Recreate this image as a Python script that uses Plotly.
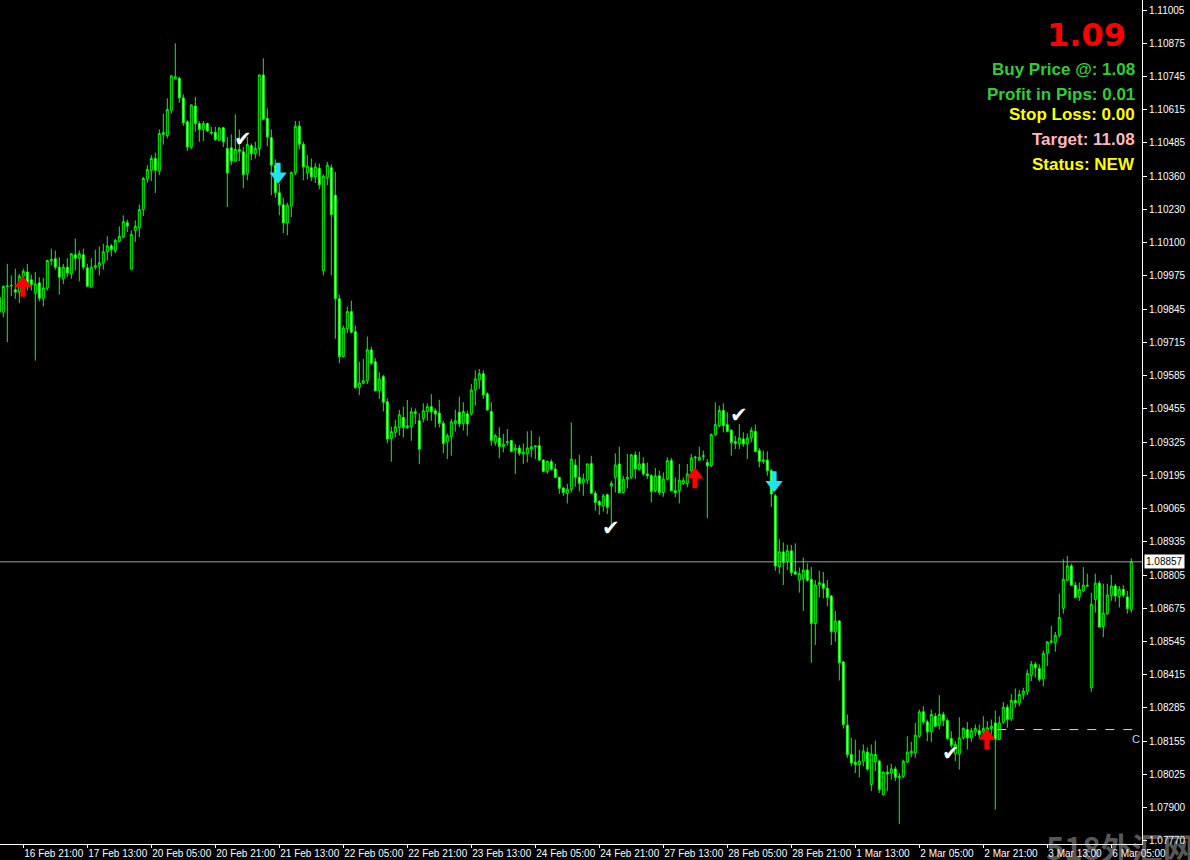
import plotly.graph_objects as go

# ---------------- data (EURUSD H1) ----------------
open_ = [1.09887,1.09829,1.09929,1.09931,1.09916,1.09907,1.09968,1.09985,1.09955,1.09903,
1.09943,1.09883,1.09922,1.10030,1.10037,1.10004,1.09959,1.10004,1.09978,1.10052,
1.10039,1.10052,1.10001,1.09926,1.10004,1.10008,1.10021,1.10064,1.10087,1.10069,
1.10105,1.10121,1.10177,1.09996,1.10147,1.10157,1.10228,1.10347,1.10381,1.10427,
1.10378,1.10520,1.10516,1.10615,1.10737,1.10739,1.10663,1.10570,1.10472,1.10631,
1.10563,1.10540,1.10563,1.10529,1.10529,1.10498,1.10547,1.10466,1.10469,1.10417,
1.10462,1.10453,1.10368,1.10477,1.10446,1.10466,1.10752,1.10583,1.10508,1.10401,
1.10294,1.10247,1.10176,1.10242,1.10371,1.10553,1.10482,1.10371,1.10391,1.10355,
1.10389,1.09991,1.10352,1.10391,1.10284,1.09881,1.09656,1.09764,1.09831,1.09753,
1.09536,1.09552,1.09562,1.09682,1.09636,1.09523,1.09578,1.09480,1.09337,1.09361,
1.09380,1.09419,1.09380,1.09384,1.09441,1.09406,1.09415,1.09442,1.09461,1.09445,
1.09436,1.09396,1.09324,1.09345,1.09396,1.09439,1.09396,1.09433,1.09433,1.09526,
1.09565,1.09589,1.09511,1.09442,1.09322,1.09339,1.09306,1.09322,1.09329,1.09292,
1.09300,1.09277,1.09277,1.09296,1.09305,1.09309,1.09253,1.09209,1.09247,1.09218,
1.09186,1.09144,1.09123,1.09140,1.09234,1.09186,1.09166,1.09175,1.09240,1.09124,
1.09092,1.09075,1.09118,1.09152,1.09186,1.09238,1.09127,1.09179,1.09186,1.09273,
1.09218,1.09240,1.09199,1.09192,1.09134,1.09192,1.09127,1.09179,1.09251,1.09134,
1.09134,1.09162,1.09162,1.09212,1.09261,1.09253,1.09267,1.09244,1.09231,1.09352,
1.09387,1.09446,1.09391,1.09368,1.09325,1.09316,1.09335,1.09316,1.09339,1.09365,
1.09290,1.09248,1.09253,1.09212,1.09114,1.08838,1.08896,1.08857,1.08900,1.08818,
1.08786,1.08792,1.08825,1.08789,1.08617,1.08766,1.08772,1.08754,1.08724,1.08585,
1.08627,1.08467,1.08221,1.08107,1.08077,1.08068,1.08081,1.08116,1.07990,1.08078,
1.08081,1.07951,1.08038,1.08035,1.08051,1.08016,1.08022,1.08078,1.08113,1.08113,
1.08178,1.08273,1.08234,1.08195,1.08256,1.08221,1.08263,1.08239,1.08169,1.08110,
1.08109,1.08172,1.08204,1.08172,1.08195,1.08200,1.08195,1.08195,1.08208,1.08230,
1.08165,1.08233,1.08291,1.08246,1.08317,1.08308,1.08341,1.08351,1.08415,1.08458,
1.08442,1.08402,1.08501,1.08544,1.08542,1.08571,1.08676,1.08785,1.08841,1.08766,
1.08722,1.08744,1.08766,1.08367,1.08711,1.08774,1.08605,1.08655,1.08727,1.08763,
1.08722,1.08750,1.08720,1.08672]

high = [1.09900,1.09933,1.10017,1.09972,1.09998,1.09978,1.09998,1.10017,1.09975,1.09985,
1.09965,1.09962,1.10033,1.10076,1.10069,1.10043,1.10017,1.10039,1.10059,1.10115,
1.10069,1.10076,1.10017,1.10039,1.10072,1.10085,1.10095,1.10124,1.10095,1.10115,
1.10163,1.10206,1.10189,1.10147,1.10186,1.10248,1.10355,1.10401,1.10440,1.10450,
1.10540,1.10602,1.10661,1.10752,1.10875,1.10745,1.10677,1.10576,1.10638,1.10667,
1.10572,1.10573,1.10567,1.10550,1.10550,1.10550,1.10550,1.10511,1.10521,1.10599,
1.10540,1.10472,1.10511,1.10485,1.10492,1.10754,1.10817,1.10622,1.10540,1.10424,
1.10329,1.10274,1.10255,1.10377,1.10573,1.10573,1.10492,1.10440,1.10427,1.10410,
1.10407,1.10365,1.10414,1.10404,1.10375,1.09897,1.09777,1.09851,1.09874,1.09777,
1.09636,1.09647,1.09734,1.09695,1.09650,1.09595,1.09585,1.09494,1.09383,1.09410,
1.09448,1.09461,1.09487,1.09458,1.09454,1.09435,1.09474,1.09474,1.09510,1.09454,
1.09488,1.09406,1.09357,1.09413,1.09449,1.09500,1.09478,1.09446,1.09550,1.09602,
1.09608,1.09602,1.09517,1.09478,1.09355,1.09381,1.09355,1.09374,1.09332,1.09316,
1.09312,1.09318,1.09365,1.09368,1.09309,1.09344,1.09257,1.09251,1.09256,1.09238,
1.09188,1.09149,1.09160,1.09400,1.09257,1.09274,1.09201,1.09240,1.09270,1.09134,
1.09097,1.09121,1.09123,1.09173,1.09279,1.09305,1.09192,1.09277,1.09277,1.09287,
1.09286,1.09264,1.09244,1.09199,1.09222,1.09212,1.09205,1.09264,1.09261,1.09186,
1.09238,1.09186,1.09238,1.09277,1.09270,1.09305,1.09290,1.09257,1.09357,1.09478,
1.09465,1.09474,1.09439,1.09374,1.09348,1.09394,1.09361,1.09357,1.09381,1.09391,
1.09300,1.09290,1.09287,1.09218,1.09121,1.08945,1.08932,1.08923,1.08923,1.08929,
1.08835,1.08874,1.08851,1.08837,1.08786,1.08822,1.08818,1.08786,1.08728,1.08666,
1.08629,1.08471,1.08263,1.08172,1.08165,1.08126,1.08146,1.08135,1.08146,1.08161,
1.08087,1.08042,1.08065,1.08070,1.08061,1.08035,1.08087,1.08178,1.08156,1.08230,
1.08282,1.08295,1.08243,1.08282,1.08269,1.08338,1.08273,1.08247,1.08198,1.08159,
1.08252,1.08213,1.08233,1.08211,1.08224,1.08224,1.08256,1.08237,1.08243,1.08278,
1.08256,1.08311,1.08302,1.08343,1.08364,1.08358,1.08367,1.08438,1.08471,1.08468,
1.08458,1.08512,1.08549,1.08607,1.08584,1.08733,1.08867,1.08880,1.08850,1.08779,
1.08776,1.08837,1.08811,1.08737,1.08811,1.08783,1.08772,1.08772,1.08806,1.08772,
1.08763,1.08766,1.08744,1.08871]

low = [1.09822,1.09809,1.09712,1.09891,1.09881,1.09864,1.09939,1.09913,1.09913,1.09640,
1.09871,1.09851,1.09913,1.10011,1.09994,1.09897,1.09939,1.09965,1.09959,1.09991,
1.09949,1.09994,1.09926,1.09926,1.09994,1.09972,1.09994,1.10030,1.10046,1.10059,
1.10100,1.10118,1.10141,1.09996,1.10102,1.10121,1.10203,1.10333,1.10339,1.10293,
1.10362,1.10481,1.10505,1.10602,1.10735,1.10644,1.10554,1.10456,1.10463,1.10531,
1.10492,1.10495,1.10531,1.10518,1.10495,1.10495,1.10472,1.10238,1.10401,1.10414,
1.10417,1.10312,1.10342,1.10420,1.10427,1.10436,1.10576,1.10475,1.10284,1.10274,
1.10206,1.10137,1.10128,1.10199,1.10362,1.10462,1.10342,1.10345,1.10339,1.10332,
1.10307,1.09972,1.10323,1.09972,1.09725,1.09630,1.09653,1.09747,1.09747,1.09530,
1.09506,1.09549,1.09549,1.09624,1.09520,1.09491,1.09442,1.09318,1.09247,1.09341,
1.09348,1.09341,1.09374,1.09328,1.09393,1.09237,1.09400,1.09406,1.09406,1.09380,
1.09380,1.09279,1.09257,1.09270,1.09364,1.09381,1.09368,1.09348,1.09426,1.09465,
1.09530,1.09491,1.09446,1.09309,1.09309,1.09260,1.09283,1.09309,1.09283,1.09199,
1.09270,1.09238,1.09244,1.09264,1.09257,1.09251,1.09205,1.09199,1.09212,1.09183,
1.09121,1.09114,1.09084,1.09127,1.09149,1.09131,1.09114,1.09160,1.09121,1.09056,
1.09040,1.09053,1.09043,1.08991,1.09127,1.09123,1.09123,1.09143,1.09179,1.09179,
1.09212,1.09192,1.09179,1.09088,1.09127,1.09117,1.09110,1.09173,1.09131,1.09108,
1.09084,1.09157,1.09147,1.09199,1.09212,1.09251,1.09251,1.09027,1.09225,1.09348,
1.09381,1.09361,1.09361,1.09270,1.09296,1.09296,1.09305,1.09257,1.09322,1.09283,
1.09225,1.09238,1.09192,1.09071,1.08822,1.08811,1.08767,1.08825,1.08802,1.08806,
1.08737,1.08666,1.08780,1.08464,1.08533,1.08718,1.08715,1.08685,1.08533,1.08546,
1.08395,1.08208,1.08094,1.08061,1.08035,1.08018,1.08061,1.08044,1.07964,1.08042,
1.07957,1.07948,1.07964,1.08009,1.08003,1.07836,1.08016,1.08074,1.08096,1.08094,
1.08172,1.08224,1.08159,1.08156,1.08213,1.08204,1.08217,1.08165,1.08133,1.08081,
1.08048,1.08165,1.08126,1.08156,1.08178,1.08172,1.08178,1.08178,1.08185,1.07892,
1.08163,1.08226,1.08211,1.08237,1.08289,1.08295,1.08321,1.08338,1.08393,1.08406,
1.08390,1.08373,1.08451,1.08538,1.08507,1.08562,1.08655,1.08783,1.08763,1.08715,
1.08705,1.08741,1.08761,1.08351,1.08659,1.08601,1.08564,1.08650,1.08705,1.08702,
1.08679,1.08718,1.08655,1.08659]

close = [1.09829,1.09929,1.09931,1.09933,1.09907,1.09969,1.09988,1.09939,1.09936,1.09939,
1.09883,1.09923,1.10030,1.10034,1.10004,1.09965,1.10004,1.09981,1.10056,1.10039,
1.10056,1.10004,1.09930,1.10004,1.10010,1.10021,1.10064,1.10087,1.10072,1.10108,
1.10124,1.10181,1.10164,1.10131,1.10163,1.10228,1.10349,1.10384,1.10427,1.10381,
1.10524,1.10528,1.10618,1.10748,1.10745,1.10663,1.10566,1.10472,1.10635,1.10563,
1.10540,1.10563,1.10534,1.10527,1.10501,1.10545,1.10492,1.10371,1.10417,1.10462,
1.10455,1.10364,1.10481,1.10446,1.10466,1.10752,1.10580,1.10511,1.10401,1.10294,
1.10247,1.10176,1.10245,1.10372,1.10553,1.10482,1.10394,1.10397,1.10355,1.10394,
1.10325,1.10358,1.10401,1.10208,1.09881,1.09656,1.09767,1.09831,1.09751,1.09536,
1.09553,1.09562,1.09682,1.09630,1.09523,1.09569,1.09478,1.09335,1.09364,1.09383,
1.09429,1.09380,1.09387,1.09441,1.09435,1.09296,1.09445,1.09461,1.09441,1.09432,
1.09396,1.09318,1.09348,1.09402,1.09406,1.09394,1.09442,1.09394,1.09526,1.09569,
1.09589,1.09507,1.09448,1.09329,1.09348,1.09306,1.09316,1.09325,1.09287,1.09300,
1.09279,1.09283,1.09300,1.09305,1.09308,1.09253,1.09209,1.09248,1.09218,1.09186,
1.09143,1.09127,1.09140,1.09257,1.09186,1.09162,1.09179,1.09238,1.09124,1.09088,
1.09078,1.09114,1.09069,1.09162,1.09234,1.09127,1.09179,1.09186,1.09273,1.09218,
1.09238,1.09199,1.09192,1.09131,1.09192,1.09127,1.09179,1.09251,1.09134,1.09127,
1.09175,1.09173,1.09199,1.09261,1.09264,1.09264,1.09270,1.09231,1.09352,1.09391,
1.09446,1.09387,1.09365,1.09322,1.09318,1.09339,1.09316,1.09339,1.09368,1.09287,
1.09248,1.09254,1.09212,1.09121,1.08841,1.08896,1.08854,1.08900,1.08815,1.08809,
1.08811,1.08825,1.08785,1.08617,1.08767,1.08776,1.08754,1.08718,1.08585,1.08627,
1.08464,1.08224,1.08107,1.08074,1.08068,1.08081,1.08120,1.08051,1.08109,1.08107,
1.07970,1.08038,1.08031,1.08051,1.08018,1.08022,1.08081,1.08116,1.08120,1.08182,
1.08273,1.08234,1.08195,1.08263,1.08217,1.08263,1.08239,1.08169,1.08143,1.08146,
1.08172,1.08208,1.08172,1.08200,1.08208,1.08185,1.08208,1.08211,1.08217,1.08165,
1.08230,1.08291,1.08243,1.08317,1.08308,1.08341,1.08354,1.08423,1.08458,1.08445,
1.08399,1.08501,1.08545,1.08549,1.08571,1.08640,1.08789,1.08841,1.08766,1.08718,
1.08750,1.08766,1.08763,1.08692,1.08774,1.08603,1.08657,1.08728,1.08763,1.08724,
1.08750,1.08727,1.08675,1.08857]

bars = list(range(len(close)))

time_labels = ["16 Feb 21:00", "17 Feb 13:00", "20 Feb 05:00", "20 Feb 21:00", "21 Feb 13:00",
               "22 Feb 05:00", "22 Feb 21:00", "23 Feb 13:00", "24 Feb 05:00", "24 Feb 21:00",
               "27 Feb 13:00", "28 Feb 05:00", "28 Feb 21:00", "1 Mar 13:00", "2 Mar 05:00",
               "2 Mar 21:00", "3 Mar 13:00", "6 Mar 05:00"]
label_bars = [6 + 16 * k for k in range(len(time_labels))]

price_labels = ["1.11005", "1.10875", "1.10745", "1.10615", "1.10485", "1.10360", "1.10230",
                "1.10100", "1.09975", "1.09845", "1.09715", "1.09585", "1.09455", "1.09325",
                "1.09195", "1.09065", "1.08935", "1.08805", "1.08675", "1.08545", "1.08415",
                "1.08285", "1.08155", "1.08025", "1.07900", "1.07770"]
tick_top, tick_bottom = 1.11005, 1.07900
tick_step = (tick_top - tick_bottom) / 24
price_ticks = [tick_top - k * tick_step for k in range(len(price_labels))]

bid_price = 1.08857
order_price = 1.08204
order_start_bar = 249.5

# signal arrows (bar position, price at arrow head) and check marks
buy_bars = [5.9, 173.9, 246.9]
buy_prices = [1.09941, 1.09196, 1.08179]
sell_bars = [69.7, 193.7]
sell_prices = [1.10358, 1.09157]
check_bars = [60.9, 152.9, 184.9, 237.9]
check_prices = [1.10502, 1.08989, 1.09430, 1.08112]

info_lines = [("1.09", "#FF0000", 32, 35, 1128, "DejaVu Sans"),
              ("Buy Price @: 1.08", "#32CD32", 17, 69, 1137, "Liberation Sans"),
              ("Profit in Pips: 0.01", "#32CD32", 17, 94, 1137, "Liberation Sans"),
              ("Stop Loss: 0.00", "#FFFF00", 17, 114, 1137, "Liberation Sans"),
              ("Target: 11.08", "#FFB6C1", 17, 139, 1137, "Liberation Sans"),
              ("Status: NEW", "#FFFF00", 17, 164, 1137, "Liberation Sans")]

# ---------------- figure ----------------
W, H = 1190, 860
ML, MR, MT, MB = 0, 48, 0, 16
PW, PH = W - ML - MR, H - MT - MB
y_top, y_bot = 1.110440, 1.077586

fig = go.Figure()
fig.add_trace(go.Candlestick(
    x=bars, open=open_, high=high, low=low, close=close,
    increasing=dict(line=dict(color="#00FF00", width=1), fillcolor="#000000"),
    decreasing=dict(line=dict(color="#00FF00", width=1), fillcolor="#FFFFFF"),
    whiskerwidth=0, showlegend=False, hoverinfo="skip"))

# arrow heads
fig.add_trace(go.Scatter(x=buy_bars, y=buy_prices, mode="markers", showlegend=False, hoverinfo="skip",
                         marker=dict(symbol="triangle-up", size=15, color="#FF0000", line=dict(width=0))))
fig.add_trace(go.Scatter(x=sell_bars, y=sell_prices, mode="markers", showlegend=False, hoverinfo="skip",
                         marker=dict(symbol="triangle-down", size=15, color="#1EE3F5", line=dict(width=0))))

annotations = []
# watermark first, so the axis texts stay readable over it
annotations.append(dict(x=1, y=0, xref="paper", yref="paper", xanchor="right", yanchor="top",
                        xshift=MR + 6, yshift=22, text="<b>518外汇网</b>", showarrow=False,
                        font=dict(family="Noto Sans CJK SC", size=31, color="rgba(200,200,200,0.45)")))
for b, p in zip(buy_bars, buy_prices):
    annotations.append(dict(x=b, y=p, xref="x", yref="y", text="", showarrow=True, arrowhead=0,
                            arrowwidth=5, arrowcolor="#FF0000", ax=0, ay=15, standoff=0))
for b, p in zip(sell_bars, sell_prices):
    annotations.append(dict(x=b, y=p, xref="x", yref="y", text="", showarrow=True, arrowhead=0,
                            arrowwidth=5, arrowcolor="#1EE3F5", ax=0, ay=-15, standoff=0))
for b, p in zip(check_bars, check_prices):
    annotations.append(dict(x=b, y=p, xref="x", yref="y", text="✔", showarrow=False,
                            font=dict(family="DejaVu Sans", size=21, color="#FFFFFF")))

for txt, col, size, ypx, xright, fam in info_lines:
    annotations.append(dict(x=1, y=1, xref="paper", yref="paper", xanchor="right", yanchor="middle",
                            xshift=xright - PW, yshift=-ypx, text="<b>%s</b>" % txt, showarrow=False,
                            font=dict(family=fam, size=size, color=col)))

# bid price box on the axis
annotations.append(dict(x=1, y=bid_price, xref="paper", yref="y", xanchor="left", yanchor="middle",
                        xshift=2, text="%.5f" % bid_price, showarrow=False, bgcolor="#FFFFFF",
                        borderpad=1, font=dict(family="Liberation Sans", size=10, color="#000000")))
# order line label
annotations.append(dict(x=1, y=order_price, xref="paper", yref="y", xanchor="right", yanchor="top",
                        xshift=0, yshift=-1, text="C", showarrow=False,
                        font=dict(family="Liberation Sans", size=11, color="#C8D0F0")))

shapes = [
    dict(type="line", xref="paper", yref="y", x0=0, x1=1, y0=bid_price, y1=bid_price,
         line=dict(color="#A0A0A0", width=1)),
    dict(type="line", xref="x", yref="y", x0=order_start_bar, x1=284.2, y0=order_price, y1=order_price,
         line=dict(color="#FFC0CB", width=1, dash="dash")),
]

fig.update_layout(
    width=W, height=H, margin=dict(l=ML, r=MR, t=MT, b=MB, pad=0),
    paper_bgcolor="#000000", plot_bgcolor="#000000",
    showlegend=False, annotations=annotations, shapes=shapes,
    xaxis=dict(range=[0.175, 285.675], tickmode="array", tickvals=label_bars, ticktext=time_labels,
               ticks="outside", ticklen=3, tickcolor="#FFFFFF", showline=True, linecolor="#FFFFFF",
               linewidth=1, showgrid=False, zeroline=False, rangeslider=dict(visible=False),
               ticklabelposition="outside right", automargin=False, tickangle=0,
               tickfont=dict(family="Liberation Sans", size=10, color="#FFFFFF")),
    yaxis=dict(range=[y_bot, y_top], side="right", tickmode="array", tickvals=price_ticks,
               ticktext=price_labels, ticks="outside", ticklen=4, tickcolor="#FFFFFF",
               showline=True, linecolor="#FFFFFF", linewidth=1, showgrid=False, zeroline=False,
               automargin=False, tickfont=dict(family="Liberation Sans", size=10, color="#FFFFFF")),
)

fig.write_html("out.html", config={"displayModeBar": False},
               post_script="document.body.style.margin='0';document.body.style.overflow='hidden';")
